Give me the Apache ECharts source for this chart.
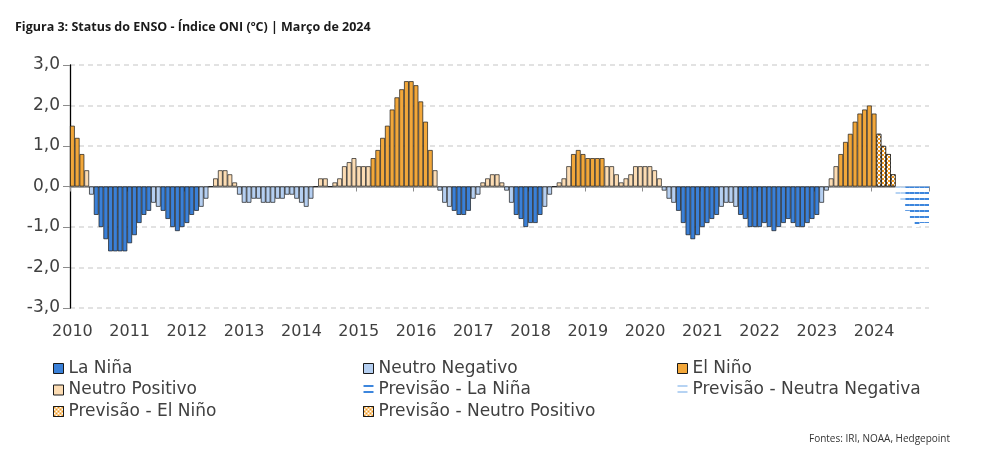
<!DOCTYPE html>
<html>
<head>
<meta charset="utf-8">
<script src="https://cdn.jsdelivr.net/npm/echarts@6.0.0/dist/echarts.min.js"></script>
<style>
html, body { margin: 0; padding: 0; background: #fff; }
#main { width: 998px; height: 467px; }
</style>
</head>
<body>
<div id="main"></div>
<script>
// rótulos do eixo x (um por ano)
var anos = ['2010', '2011', '2012', '2013', '2014', '2015', '2016', '2017',
    '2018', '2019', '2020', '2021', '2022', '2023', '2024'];

// ONI observado, trimestres móveis (DJF = jan, JFM = fev ...), jan/2010 a jan/2024
var oniObservado = [
    1.5, 1.2, 0.8, 0.4, -0.2, -0.7, -1.0, -1.3, -1.6, -1.6, -1.6, -1.6,
    -1.4, -1.2, -0.9, -0.7, -0.6, -0.4, -0.5, -0.6, -0.8, -1.0, -1.1, -1.0,
    -0.9, -0.7, -0.6, -0.5, -0.3, 0.0, 0.2, 0.4, 0.4, 0.3, 0.1, -0.2,
    -0.4, -0.4, -0.3, -0.3, -0.4, -0.4, -0.4, -0.3, -0.3, -0.2, -0.2, -0.3,
    -0.4, -0.5, -0.3, 0.0, 0.2, 0.2, 0.0, 0.1, 0.2, 0.5, 0.6, 0.7,
    0.5, 0.5, 0.5, 0.7, 0.9, 1.2, 1.5, 1.9, 2.2, 2.4, 2.6, 2.6,
    2.5, 2.1, 1.6, 0.9, 0.4, -0.1, -0.4, -0.5, -0.6, -0.7, -0.7, -0.6,
    -0.3, -0.2, 0.1, 0.2, 0.3, 0.3, 0.1, -0.1, -0.4, -0.7, -0.8, -1.0,
    -0.9, -0.9, -0.7, -0.5, -0.2, 0.0, 0.1, 0.2, 0.5, 0.8, 0.9, 0.8,
    0.7, 0.7, 0.7, 0.7, 0.5, 0.5, 0.3, 0.1, 0.2, 0.3, 0.5, 0.5,
    0.5, 0.5, 0.4, 0.2, -0.1, -0.3, -0.4, -0.6, -0.9, -1.2, -1.3, -1.2,
    -1.0, -0.9, -0.8, -0.7, -0.5, -0.4, -0.4, -0.5, -0.7, -0.8, -1.0, -1.0,
    -1.0, -0.9, -1.0, -1.1, -1.0, -0.9, -0.8, -0.9, -1.0, -1.0, -0.9, -0.8,
    -0.7, -0.4, -0.1, 0.2, 0.5, 0.8, 1.1, 1.3, 1.6, 1.8, 1.9, 2.0,
    1.8
];

// fase de cada mês: L = La Niña, n = neutro negativo, E = El Niño, p = neutro positivo
var faseObservada = [
    'EEEpnLLLLLLL', 'LLLLLnnLLLLL', 'LLLnnppppppn', 'nnnnnnnnnnnn',
    'nnnppppppppp', 'pppEEEEEEEEE', 'EEEEpnnnLLLL', 'nnpppppnnLLL',
    'LLLnnppppEEE', 'EEEEpppppppp', 'ppppnnnLLLLL', 'LLLLnnnnLLLL',
    'LLLLLLLLLLLL', 'LnnppEEEEEEE', 'E'
].join('');

// previsão fev/2024 a dez/2024
var oniPrevisao = [1.3, 1.0, 0.8, 0.3, -0.2, -0.4, -0.6, -0.8, -1.0, -0.9, -0.9];
var fasePrevisao = 'EEEpnnLLLLL';

var meses = [];
for (var a = 0; a < anos.length; a++) {
    for (var m = 1; m <= 12; m++) {
        meses.push(anos[a] + '-' + (m < 10 ? '0' + m : m));
    }
}

function serie(valores, fases, offset, codigo) {
    var out = [];
    for (var i = 0; i < meses.length; i++) {
        var k = i - offset;
        if (k >= 0 && k < valores.length && fases.charAt(k) === codigo) {
            out.push(valores[k]);
        } else {
            out.push(null);
        }
    }
    return out;
}

var borda = '#1a1a1a';
var bw = 0.7;
var xadrez = {
    symbol: 'rect', symbolSize: 1, color: '#ffffff', rotation: 0,
    dashArrayX: [[2, 2], [0, 2, 2, 0]], dashArrayY: [2, 0]
};

function barra(nome, dados, estilo) {
    return {
        name: nome,
        type: 'bar',
        stack: 'oni',
        barWidth: '100%',
        barCategoryGap: '0%',
        data: dados,
        itemStyle: estilo
    };
}

var nObs = oniObservado.length;

var fonte = 'DejaVu Sans';
var legendaBase = {
    orient: 'vertical',
    icon: 'rect',
    itemWidth: 10,
    itemHeight: 10,
    itemGap: 4.5,
    top: 355,
    selectedMode: false,
    textStyle: { fontFamily: fonte, fontSize: 17, color: '#404040' },
    itemStyle: { borderWidth: 1 }
};

var myChart = echarts.init(document.getElementById('main'));

option = {
    animation: false,
    backgroundColor: '#ffffff',
    title: [{
        text: 'Figura 3: Status do ENSO - Índice ONI (ºC) | Março de 2024',
        left: 15,
        top: 21,
        padding: 0,
        textStyle: { fontFamily: 'Open Sans', fontSize: 12.5, fontWeight: 'bold', color: '#1a1a1a' }
    }, {
        text: 'Fontes: IRI, NOAA, Hedgepoint',
        left: 809,
        top: 434,
        padding: 0,
        textStyle: { fontFamily: 'Open Sans', fontSize: 10, fontWeight: 'normal', color: '#333' }
    }],
    legend: [
        Object.assign({}, legendaBase, { left: 48, data: ['La Niña', 'Neutro Positivo', 'Previsão - El Niño'] }),
        Object.assign({}, legendaBase, { left: 358, data: ['Neutro Negativo', 'Previsão - La Niña', 'Previsão - Neutro Positivo'] }),
        Object.assign({}, legendaBase, { left: 672, data: ['El Niño', 'Previsão - Neutra Negativa'] })
    ],
    grid: {
        left: 70,
        right: 69,
        top: 65,
        bottom: 159,
        outerBoundsMode: 'none'
    },
    xAxis: [{
        type: 'category',
        data: meses,
        position: 'bottom',
        axisLine: { show: false, onZero: false },
        axisTick: { show: false },
        axisLabel: {
            interval: 11,
            margin: 16,
            fontFamily: fonte,
            fontSize: 16,
            color: '#404040',
            formatter: function(v) { return v.slice(0, 4); }
        },
        splitLine: { show: false }
    }, {
        type: 'category',
        data: meses,
        position: 'bottom',
        axisLine: { show: true, onZero: true, lineStyle: { color: '#8c8c8c', width: 1.5 } },
        axisTick: { show: true, interval: 11, length: 5, lineStyle: { color: '#8c8c8c' } },
        axisLabel: { show: false },
        splitLine: { show: false }
    }],
    yAxis: {
        type: 'value',
        min: -3,
        max: 3,
        interval: 1,
        axisLine: { show: true, onZero: false, lineStyle: { color: '#000', width: 1.3 } },
        axisTick: { show: true, length: 7, lineStyle: { color: '#8c8c8c' } },
        axisLabel: {
            margin: 10,
            fontFamily: fonte,
            fontSize: 17,
            color: '#404040',
            formatter: function(v) { return v.toFixed(1).replace('.', ','); }
        },
        splitLine: { show: true, lineStyle: { color: '#d9d9d9', width: 1.5, type: [5, 4] } }
    },
    series: [
        barra('La Niña', serie(oniObservado, faseObservada, 0, 'L'),
            { color: '#3a80d8', borderColor: borda, borderWidth: bw }),
        barra('Neutro Negativo', serie(oniObservado, faseObservada, 0, 'n'),
            { color: '#b5cff1', borderColor: borda, borderWidth: bw }),
        barra('El Niño', serie(oniObservado, faseObservada, 0, 'E'),
            { color: '#f2a73a', borderColor: borda, borderWidth: bw }),
        barra('Neutro Positivo', serie(oniObservado, faseObservada, 0, 'p'),
            { color: '#fcdcb3', borderColor: borda, borderWidth: bw }),
        barra('Previsão - La Niña', serie(oniPrevisao, fasePrevisao, nObs, 'L'),
            { color: '#ffffff', borderWidth: 0,
              decal: { symbol: 'rect', symbolSize: 1, color: '#3d86dd', rotation: 0, dashArrayX: [1, 0], dashArrayY: [2, 4] } }),
        barra('Previsão - Neutra Negativa', serie(oniPrevisao, fasePrevisao, nObs, 'n'),
            { color: '#ffffff', borderWidth: 0,
              decal: { symbol: 'rect', symbolSize: 1, color: '#b6d3f3', rotation: 0, dashArrayX: [1, 0], dashArrayY: [2, 4] } }),
        barra('Previsão - El Niño', serie(oniPrevisao, fasePrevisao, nObs, 'E'),
            { color: '#f39a1e', borderColor: borda, borderWidth: bw, decal: xadrez }),
        barra('Previsão - Neutro Positivo', serie(oniPrevisao, fasePrevisao, nObs, 'p'),
            { color: '#f39a1e', borderColor: borda, borderWidth: bw, decal: xadrez })
    ]
};

myChart.setOption(option);
</script>
</body>
</html>
